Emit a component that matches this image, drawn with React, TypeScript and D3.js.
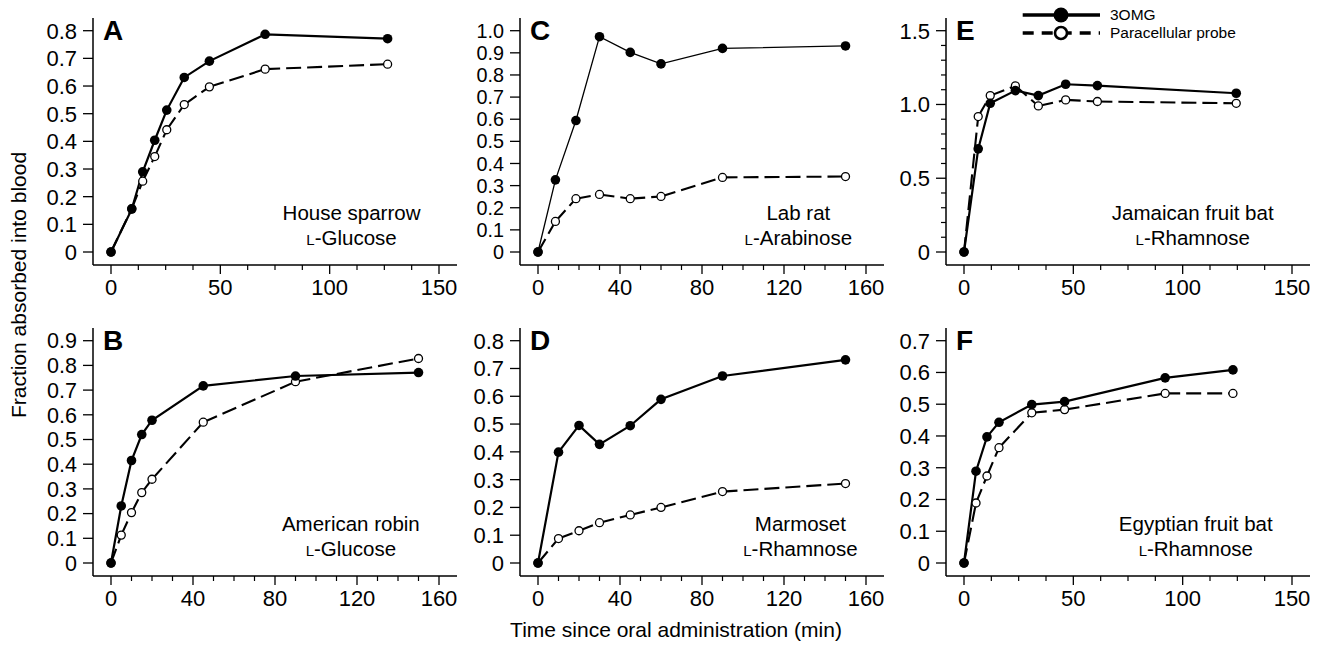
import React from "react";
import * as d3 from "d3";

const W = 1317;
const H = 645;
const FONT = "'Liberation Sans', Arial, Helvetica, sans-serif";

// ---------- data ----------
const panelLetters = ["A", "B", "C", "D", "E", "F"];
const speciesNames = [
  "House sparrow",
  "American robin",
  "Lab rat",
  "Marmoset",
  "Jamaican fruit bat",
  "Egyptian fruit bat",
];
const probeNames = ["Glucose", "Glucose", "Arabinose", "Rhamnose", "Rhamnose", "Rhamnose"];

const timesA = [0, 9.5, 14.5, 20, 25.5, 33.5, 45, 70.5, 126.5];
const omgA = [0, 0.155, 0.29, 0.404, 0.513, 0.631, 0.69, 0.787, 0.771];
const probeA = [0, 0.157, 0.256, 0.345, 0.442, 0.533, 0.597, 0.661, 0.679];

const timesB = [0, 5, 10, 15, 20, 45, 90, 150];
const omgB = [0, 0.231, 0.415, 0.52, 0.578, 0.717, 0.757, 0.771];
const probeB = [0, 0.113, 0.204, 0.285, 0.339, 0.57, 0.734, 0.828];

const timesC = [0, 8.5, 18.5, 30, 45, 60, 90, 150];
const omgC = [0, 0.326, 0.594, 0.973, 0.902, 0.85, 0.92, 0.931];
const probeC = [0, 0.138, 0.241, 0.26, 0.241, 0.251, 0.337, 0.341];

const timesD = [0, 10, 20, 30, 45, 60, 90, 150];
const omgD = [0, 0.399, 0.495, 0.427, 0.494, 0.589, 0.673, 0.731];
const probeD = [0, 0.088, 0.116, 0.145, 0.173, 0.2, 0.257, 0.286];

const timesE = [0, 6.5, 12, 23.5, 34, 46.5, 61, 124.5];
const omgE = [0, 0.699, 1.008, 1.094, 1.06, 1.137, 1.128, 1.076];
const probeE = [0, 0.918, 1.06, 1.126, 0.99, 1.031, 1.02, 1.008];

const timesF = [0, 5.5, 10.5, 16, 31, 46, 92, 123];
const omgF = [0, 0.289, 0.397, 0.443, 0.499, 0.508, 0.583, 0.608];
const probeF = [0, 0.189, 0.274, 0.363, 0.473, 0.483, 0.534, 0.534];

const panelTimes = [timesA, timesB, timesC, timesD, timesE, timesF];
const panelOmg = [omgA, omgB, omgC, omgD, omgE, omgF];
const panelProbe = [probeA, probeB, probeC, probeD, probeE, probeF];

const yTopValues = [0.8, 0.9, 1.0, 0.8, 1.5, 0.7];
const yMajorSteps = [0.1, 0.1, 0.1, 0.1, 0.5, 0.1];
const yMinorSteps = [0, 0, 0, 0, 0.1, 0];
const xTopValues = [150, 160, 160, 160, 150, 150];
const xMajorSteps = [50, 40, 40, 40, 50, 50];
const xMinorSteps = [12.5, 10, 10, 10, 12.5, 12.5];

const legendLabels = ["3OMG", "Paracellular probe"];
const xTitle = "Time since oral administration (min)";
const yTitle = "Fraction absorbed into blood";

// ---------- layout ----------
const colLefts = [93, 520, 946];
const rowTops = [18, 328];
const rowBottoms = [265, 576];
const panelW = 364;
const panelCol = [0, 0, 1, 1, 2, 2];
const panelRow = [0, 1, 0, 1, 0, 1];
const labelCenterT = [110, 117, 127, 128, 104.6, 106];
const solidWidths = [2.2, 2.2, 1.3, 2.2, 2.2, 2.2];
const yTickFont = [22, 21.5, 19.8, 22, 22, 22];

const fmtY = (v: number) => (Math.abs(v) < 1e-9 ? "0" : v.toFixed(1));

function stepsTo(top: number, step: number) {
  const n = Math.round(top / step);
  return d3.range(0, n + 1).map((i) => +(i * step).toFixed(6));
}

function Panel({ i }: { i: number }) {
  const left = colLefts[panelCol[i]];
  const right = left + panelW;
  const top = rowTops[panelRow[i]];
  const bottom = rowBottoms[panelRow[i]];

  const x = d3.scaleLinear().domain([0, xTopValues[i]]).range([left + 18, right - 18]);
  const y = d3.scaleLinear().domain([0, yTopValues[i]]).range([bottom - 13, top + 12.7]);

  const xMajor = stepsTo(xTopValues[i], xMajorSteps[i]);
  const xMaxVisible = x.invert(right);
  const xMinor = d3
    .range(0, Math.floor(xMaxVisible / xMinorSteps[i]) + 1)
    .map((k) => k * xMinorSteps[i])
    .filter((v) => xMajor.every((m) => Math.abs(m - v) > 1e-6));

  const yMajor = stepsTo(yTopValues[i], yMajorSteps[i]);
  const yMinor =
    yMinorSteps[i] > 0
      ? stepsTo(yTopValues[i], yMinorSteps[i]).filter((v) => yMajor.every((m) => Math.abs(m - v) > 1e-6))
      : [];

  const t = panelTimes[i];
  const omg = panelOmg[i];
  const pr = panelProbe[i];
  const solidLine = d3
    .line<number>()
    .x((_, k) => x(t[k]))
    .y((d) => y(d));

  const cx = x(labelCenterT[i]);

  return (
    <g>
      {/* axes */}
      <line x1={left} x2={left} y1={top} y2={bottom} stroke="#000" strokeWidth={1.5} />
      <line x1={left} x2={right} y1={bottom} y2={bottom} stroke="#000" strokeWidth={1.5} />
      {yMajor.map((v) => (
        <g key={"ym" + v}>
          <line x1={left - 10} x2={left} y1={y(v)} y2={y(v)} stroke="#000" strokeWidth={1.3} />
          <text
            x={left - 16}
            y={y(v)}
            dy="0.36em"
            textAnchor="end"
            fontSize={yTickFont[i]}
            fontFamily={FONT}
          >
            {fmtY(v)}
          </text>
        </g>
      ))}
      {yMinor.map((v) => (
        <line key={"yn" + v} x1={left - 5} x2={left} y1={y(v)} y2={y(v)} stroke="#000" strokeWidth={1.2} />
      ))}
      {xMajor.map((v) => (
        <g key={"xm" + v}>
          <line x1={x(v)} x2={x(v)} y1={bottom} y2={bottom + 9} stroke="#000" strokeWidth={1.3} />
          <text x={x(v)} y={bottom + 30} textAnchor="middle" fontSize={22} fontFamily={FONT}>
            {v}
          </text>
        </g>
      ))}
      {xMinor.map((v) => (
        <line key={"xn" + v} x1={x(v)} x2={x(v)} y1={bottom} y2={bottom + 5} stroke="#000" strokeWidth={1.2} />
      ))}

      {/* panel letter */}
      <text x={left + 10} y={top + 22} fontSize={28} fontWeight="bold" fontFamily={FONT}>
        {panelLetters[i]}
      </text>

      {/* annotation */}
      <text x={cx} y={bottom - 45} textAnchor="middle" fontSize={20.5} fontFamily={FONT}>
        {speciesNames[i]}
      </text>
      <text x={cx} y={bottom - 20} textAnchor="middle" fontSize={20.5} fontFamily={FONT}>
        <tspan fontSize={15}>L</tspan>
        <tspan>{"-" + probeNames[i]}</tspan>
      </text>

      {/* paracellular probe (dashed, open) */}
      {pr.slice(1).map((v, k) => (
        <line
          key={"ds" + k}
          x1={x(t[k])}
          y1={y(pr[k])}
          x2={x(t[k + 1])}
          y2={y(v)}
          stroke="#000"
          strokeWidth={2.1}
          strokeDasharray="15,6"
        />
      ))}
      {/* 3OMG solid */}
      <path d={solidLine(omg) || ""} fill="none" stroke="#000" strokeWidth={solidWidths[i]} />
      {pr.map((v, k) => (
        <circle key={"oc" + k} cx={x(t[k])} cy={y(v)} r={4} fill="#fff" stroke="#000" strokeWidth={1.3} />
      ))}
      {omg.map((v, k) => (
        <circle key={"fc" + k} cx={x(t[k])} cy={y(v)} r={4.8} fill="#000" />
      ))}
    </g>
  );
}

export default function App() {
  return (
    <svg width={W} height={H} style={{ display: "block", position: "absolute", left: 0, top: 0 }}>
      <rect width={W} height={H} fill="#fff" />
      {panelLetters.map((_, i) => (
        <Panel key={i} i={i} />
      ))}

      {/* legend */}
      <line x1={1022.7} x2={1100} y1={15} y2={15} stroke="#000" strokeWidth={3.5} />
      <circle cx={1061} cy={15} r={7.5} fill="#000" />
      <text x={1110} y={20} fontSize={15.5} fontFamily={FONT}>
        {legendLabels[0]}
      </text>
      <line x1={1022.7} x2={1100} y1={33} y2={33} stroke="#000" strokeWidth={3.5} strokeDasharray="11,8" />
      <circle cx={1061} cy={33} r={6} fill="#fff" stroke="#000" strokeWidth={2.6} />
      <text x={1110} y={38} fontSize={15.5} fontFamily={FONT}>
        {legendLabels[1]}
      </text>

      {/* axis titles */}
      <text x={676} y={637} textAnchor="middle" fontSize={21} fontFamily={FONT}>
        {xTitle}
      </text>
      <text
        transform="translate(26,285) rotate(-90)"
        textAnchor="middle"
        fontSize={21}
        fontFamily={FONT}
      >
        {yTitle}
      </text>
    </svg>
  );
}
